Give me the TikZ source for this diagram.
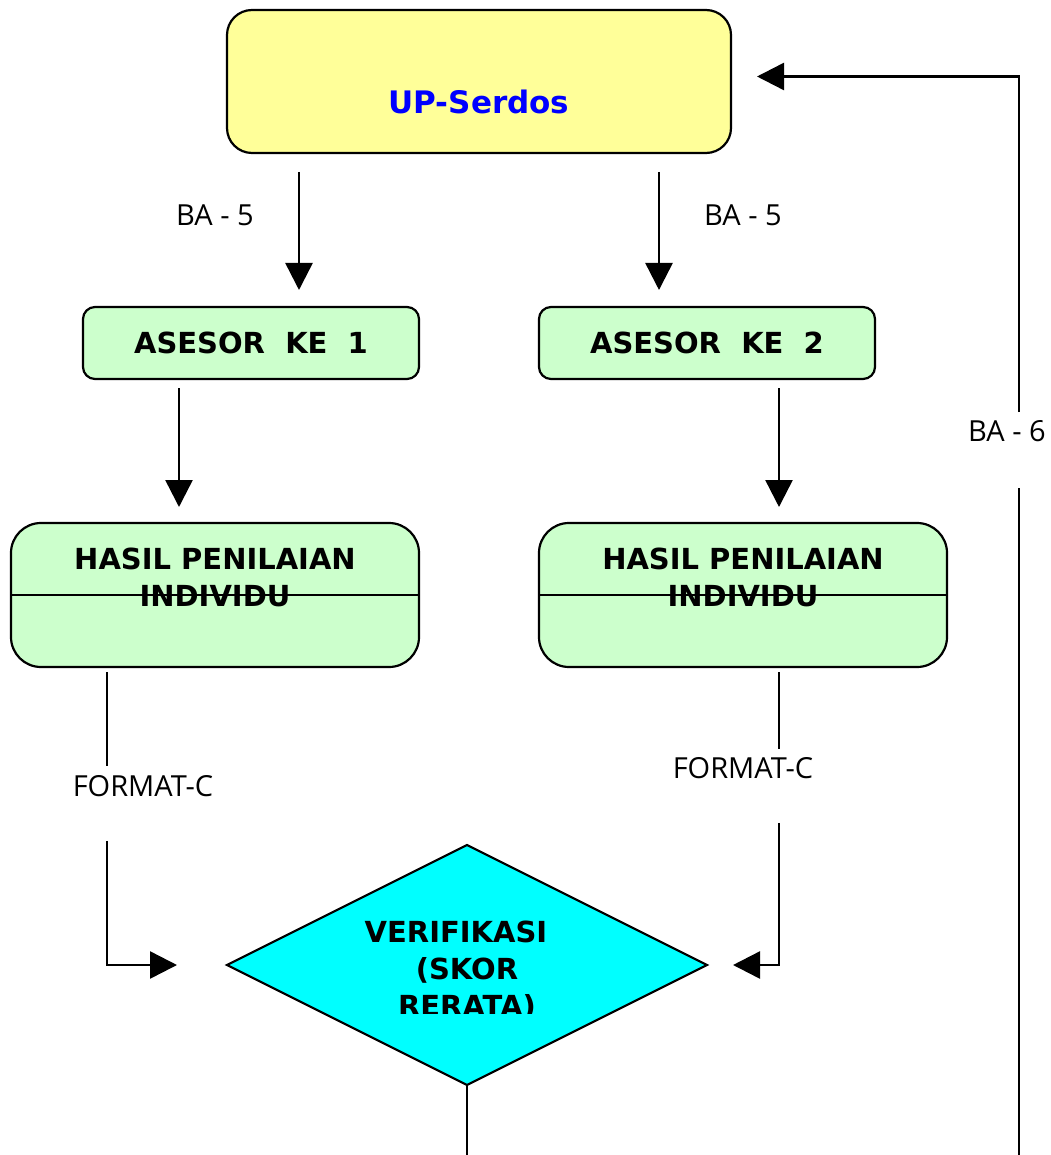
\documentclass[tikz,border=0pt]{standalone}
\usepackage{fontspec}
\usepackage{tikz}
\usetikzlibrary{shapes.geometric,arrows.meta}
\newfontfamily\tebal{DejaVu Sans}
\newfontfamily\biasa{Open Sans}
\definecolor{kuning}{HTML}{FFFF99}
\definecolor{hijau}{HTML}{CCFFCC}
\definecolor{toska}{HTML}{00FFFF}
\definecolor{biru}{HTML}{0000FF}

\begin{document}
\begin{tikzpicture}[x=1pt, y=-1pt,
    kotak/.style={draw, line width=2.2pt, inner sep=0pt, outer sep=0pt},
    upbox/.style={kotak, rounded corners=25pt, fill=kuning,
      minimum width=504pt, minimum height=143pt},
    asesor/.style={kotak, rounded corners=12pt, fill=hijau,
      minimum width=336pt, minimum height=72pt,
      font=\tebal\bfseries\fontsize{29}{37}\selectfont},
    hasil/.style={kotak, rounded corners=30pt, fill=hijau,
      minimum width=408pt, minimum height=144pt},
    judul/.style={align=center, inner sep=0pt,
      font=\tebal\bfseries\fontsize{29}{37}\selectfont},
    ket/.style={inner sep=0pt, font=\biasa\fontsize{29}{35}\selectfont},
    garis/.style={line width=2.5pt},
    panah/.style={garis, -{Triangle[length=27pt,width=27pt]}}]
  \useasboundingbox (0,0) rectangle (1050,1155);

  \node[upbox] (Up) at (479,81.5) {};
  \node[judul, text=biru, font=\tebal\bfseries\fontsize{31}{37}\selectfont]
    (UpTeks) at (479,102) {UP-Serdos};

  \node[asesor] (As1) at (251,343) {ASESOR~~KE~~1};
  \node[asesor] (As2) at (707,343) {ASESOR~~KE~~2};

  \node[hasil] (H1) at (215,595) {};
  \node[hasil] (H2) at (743,595) {};
  \draw[line width=2pt] (H1.west) -- (H1.east);
  \draw[line width=2pt] (H2.west) -- (H2.east);
  \node[judul] (H1Teks) at (215,577) {HASIL PENILAIAN\\INDIVIDU};
  \node[judul] (H2Teks) at (743,577) {HASIL PENILAIAN\\INDIVIDU};

  \node[kotak, diamond, fill=toska, minimum width=480pt,
    minimum height=240pt] (Verif) at (467,965) {};
  \begin{scope}
    \clip (227,845) rectangle (707,1013);
    \node[judul] (VerifTeks) at (467,971) {VERIFIKASI\kern22pt\\(SKOR\\RERATA)};
  \end{scope}

  \node[ket] (Ba5a) at (215,215) {BA - 5};
  \node[ket] (Ba5b) at (743,215) {BA - 5};
  \node[ket] (Fc1) at (143,786) {FORMAT-C};
  \node[ket] (Fc2) at (743,768) {FORMAT-C};
  \node[ket] (Ba6) at (1007,431) {BA - 6};

  \coordinate (Jalur1) at ([xshift=-108pt]H1.south);
  \coordinate (Jalur2) at ([xshift=36pt]H2.south);
  \coordinate (Balik) at (1019,1155);

  \draw[panah, shorten <=19pt, shorten >=17pt]
    ([xshift=48pt]As1.north |- Up.south) -- ([xshift=48pt]As1.north);
  \draw[panah, shorten <=19pt, shorten >=17pt]
    ([xshift=-48pt]As2.north |- Up.south) -- ([xshift=-48pt]As2.north);
  \draw[panah, shorten <=9pt, shorten >=16pt]
    ([xshift=-72pt]As1.south) -- ([xshift=-72pt]As1.south |- H1.north);
  \draw[panah, shorten <=9pt, shorten >=16pt]
    ([xshift=72pt]As2.south) -- ([xshift=72pt]As2.south |- H2.north);

  \draw[garis, shorten <=5pt, shorten >=9pt] (Jalur1) -- (Jalur1 |- Fc1.north);
  \draw[panah] ([yshift=-44pt]Jalur1 |- Fc1.south) |- ([xshift=-50pt]Verif.west);
  \draw[garis, shorten <=5pt, shorten >=8pt] (Jalur2) -- (Jalur2 |- Fc2.north);
  \draw[panah] ([yshift=-44pt]Jalur2 |- Fc2.south) |- ([xshift=26pt]Verif.east);

  \draw[garis] (Verif.south) -- (Verif.south |- Balik);

  \draw[garis] (Balik) -- ([yshift=-46pt]Ba6.south -| Balik);
  \draw[panah] ([yshift=8pt]Ba6.north -| Balik) |- ([xshift=26pt,yshift=5pt]Up.east);
\end{tikzpicture}
\end{document}
